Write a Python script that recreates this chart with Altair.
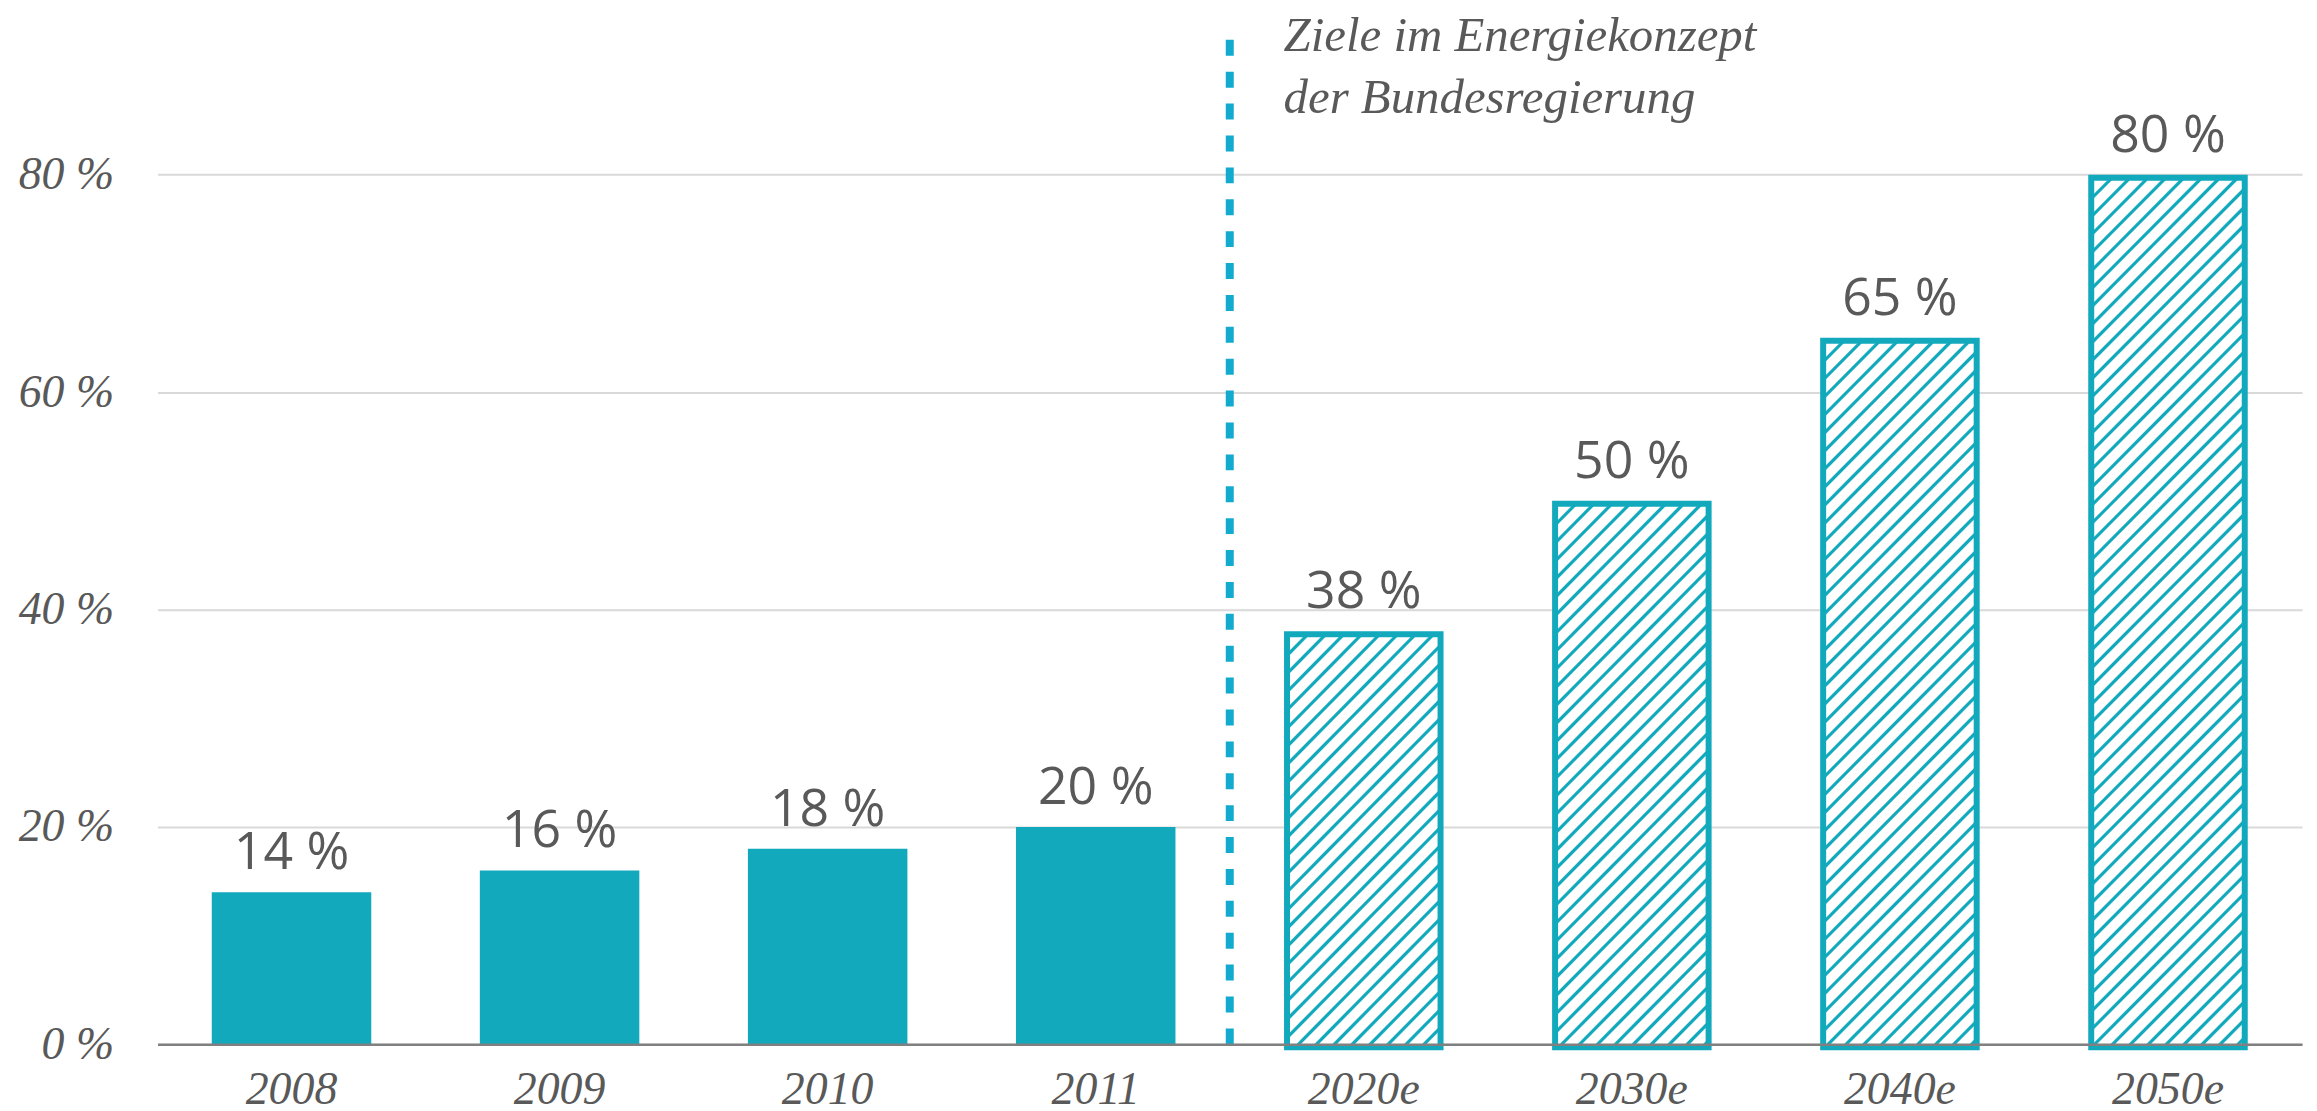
import altair as alt
import pandas as pd

# ---------------- data ----------------
years = ["2008", "2009", "2010", "2011", "2020e", "2030e", "2040e", "2050e"]
shares = [14, 16, 18, 20, 38, 50, 65, 80]
kinds = ["Ist", "Ist", "Ist", "Ist", "Ziel", "Ziel", "Ziel", "Ziel"]
y_ticks = [0, 20, 40, 60, 80]
note_lines = ["Ziele im Energiekonzept", "der Bundesregierung"]
split_year = "2020e"

# ---------------- style / layout ----------------
TEAL = "#12A9BD"
DASH = "#12AACE"
GREY_TXT = "#595959"
GRID = "#D9D9D9"
AXIS_LINE = "#808080"

PAD_L, PAD_T, PAD_R, PAD_B = 150, 29, 0, 74
W, H = 2159, 1009
Y_MAX = 92.5
BAND_RANGE = 2152
N = len(years)
P_IN = 0.405
P_OUT = P_IN / 2
STEP = BAND_RANGE / (N - P_IN + 2 * P_OUT)
BW = STEP * (1 - P_IN)
SW = 6
HATCH_REL = (BW - SW) / BW
PX = H / Y_MAX

df = pd.DataFrame({"year": years, "share": shares, "kind": kinds})
df["label"] = [f"{v} %" for v in shares]

x_scale = alt.Scale(domain=years, range=[0, BAND_RANGE], paddingInner=P_IN, paddingOuter=P_OUT)
y_scale = alt.Scale(domain=[0, Y_MAX], nice=False, zero=True)

x_axis = alt.Axis(
    title=None, labelAngle=0, ticks=False, grid=False,
    domainColor=AXIS_LINE, domainWidth=2.5,
    labelFont="Liberation Serif", labelFontStyle="italic", labelFontSize=46,
    labelColor=GREY_TXT, labelPadding=23, zindex=2,
)
y_axis = alt.Axis(
    title=None, values=y_ticks, labelExpr="datum.value + ' %'",
    domain=False, ticks=False, grid=True, gridColor=GRID, gridWidth=2,
    labelFont="Liberation Serif", labelFontStyle="italic", labelFontSize=46,
    labelColor=GREY_TXT, labelPadding=44,
)

x_enc = alt.X("year:N", sort=years, scale=x_scale, axis=x_axis)
y_enc = alt.Y("share:Q", scale=y_scale, axis=y_axis)


def hatch(w, h, period=18.0, line=6.0, ramp=1.5):
    """45-degree stripe gradient for a bar of w x h pixels."""
    S = w + h
    d = w * w + h * h
    gx = S * w / d
    gy = S * h / d
    stops = []
    s0 = 0.0
    while s0 < S:
        for s, c in ((s0, "#FFFFFF"), (s0 + ramp, TEAL), (s0 + line - ramp, TEAL), (s0 + line, "#FFFFFF")):
            if s <= S:
                stops.append({"offset": s / S, "color": c})
        s0 += period
    if stops[-1]["offset"] < 1:
        stops.append({"offset": 1.0, "color": "#FFFFFF"})
    return {"gradient": "linear", "x1": 0, "y1": 0, "x2": gx, "y2": gy, "stops": stops}


base = alt.Chart(df)

solid = base.transform_filter(alt.datum.kind == "Ist").mark_bar(color=TEAL).encode(x=x_enc, y=y_enc)

hatched = []
for yr, v, k in zip(years, shares, kinds):
    if k != "Ziel":
        continue
    gw = BW * HATCH_REL
    gh = v * PX - SW
    layer = base.transform_filter(alt.datum.year == yr).mark_bar(
        fill=hatch(gw, gh), stroke=TEAL, strokeWidth=SW,
        width=alt.RelativeBandSize(HATCH_REL), yOffset=SW / 2, y2Offset=-SW / 2,
    ).encode(x=x_enc, y=y_enc)
    hatched.append(layer)

labels = base.mark_text(
    font="Open Sans", fontSize=52, color=GREY_TXT, baseline="alphabetic", dy=-23
).encode(x=x_enc, y=y_enc, text="label:N")

marker = alt.Chart(pd.DataFrame({"year": [split_year]}))

rule = marker.mark_rule(
    color=DASH, strokeWidth=8, strokeDash=[16, 16], xOffset=-STEP / 2
).encode(
    x=x_enc,
    y=alt.YDatum(0, type="quantitative", scale=y_scale, axis=y_axis),
    y2=alt.Y2Datum(Y_MAX),
)

note = marker.mark_text(
    text=note_lines, align="left", baseline="alphabetic",
    font="Liberation Serif", fontStyle="italic", fontSize=49, lineHeight=62,
    color=GREY_TXT, dx=-STEP / 2 + 54,
).encode(x=x_enc, y=alt.value(12))

chart = alt.layer(solid, *hatched, labels, rule, note).properties(
    width=W, height=H,
    autosize=alt.AutoSizeParams(type="none"),
    padding={"left": PAD_L, "top": PAD_T, "right": PAD_R, "bottom": PAD_B},
).configure_view(stroke=None)

chart.save("out.html", embed_options={"renderer": "svg", "actions": False})
